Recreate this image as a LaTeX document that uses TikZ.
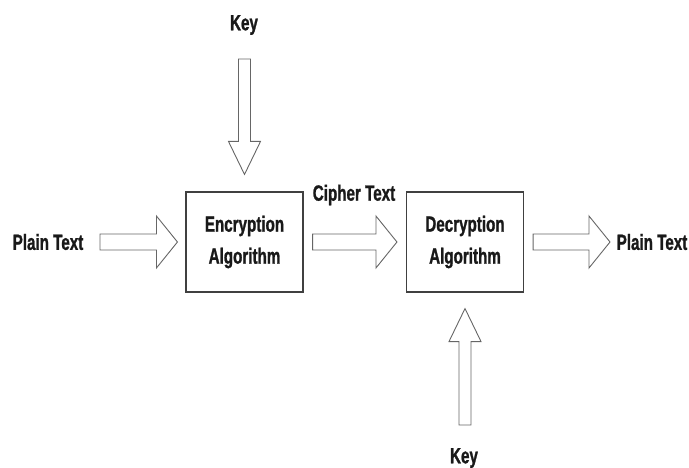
\documentclass[tikz,border=0pt]{standalone}
\usepackage{fontspec}
\setmainfont{Liberation Sans}[FakeStretch=0.69,FakeBold=1.1]
\usetikzlibrary{calc,positioning}
\tikzset{
  txt/.style={inner sep=0pt, text=black!90, font=\fontsize{22}{32}\selectfont\bfseries},
  algbox/.style={draw=black!75, line width=1.1pt, minimum width=117pt, minimum height=100pt,
    inner sep=0pt, align=center, text=black!90, font=\fontsize{22}{32}\selectfont\bfseries},
  % hollow block arrow: #1 half shaft, #2 half head, #3 head length
  fat/.style n args={3}{draw=black!60, fill=white, line width=0.9pt, line join=miter,
    to path={($(\tikztostart)!#1!90:(\tikztotarget)$)
      -- ($(\tikztotarget)!#3!(\tikztostart)!#1!90:(\tikztotarget)$)
      -- ($(\tikztotarget)!#3!(\tikztostart)!#2!90:(\tikztotarget)$)
      -- (\tikztotarget)
      -- ($(\tikztotarget)!#3!(\tikztostart)!#2!-90:(\tikztotarget)$)
      -- ($(\tikztotarget)!#3!(\tikztostart)!#1!-90:(\tikztotarget)$)
      -- ($(\tikztostart)!#1!-90:(\tikztotarget)$) -- cycle}},
  hfat/.style={fat={8pt}{26pt}{21pt}},
  vfat/.style={fat={6pt}{16pt}{33pt}}
}
\begin{document}
\begin{tikzpicture}[x=1pt,y=-1pt]
	\useasboundingbox (0,0) rectangle (689,468);
	\node[txt] (plainA) at (48,242) {Plain Text};
	\node[algbox] (enc) at (244.5,242) {Encryption\\Algorithm};
	\node[algbox] (dec) at (465,242) {Decryption\\Algorithm};
	\node[txt] (plainB) at (652,242) {Plain Text};
	\node[txt] (cipher) at (354,195) {Cipher Text};
	\node[txt] (keyA) at (244,25) {Key};
	\node[txt] (keyB) at (464,458) {Key};
	\coordinate (pA) at (100,242);
	\coordinate[left=8pt of enc] (eIn);
	\coordinate[right=9pt of enc] (eOut);
	\coordinate[left=9pt of dec] (dIn);
	\coordinate[right=9pt of dec] (dOut);
	\coordinate (pB) at (610,242);
	\coordinate (kA) at (244.5,59);
	\coordinate[above=17pt of enc] (eKey);
	\coordinate (kB) at (465,425);
	\coordinate[below=16pt of dec] (dKey);
	\draw[hfat] (pA) to (eIn);
	\draw[hfat] (eOut) to (dIn);
	\draw[hfat] (dOut) to (pB);
	\draw[vfat] (kA) to (eKey);
	\draw[vfat] (kB) to (dKey);
\end{tikzpicture}
\end{document}
